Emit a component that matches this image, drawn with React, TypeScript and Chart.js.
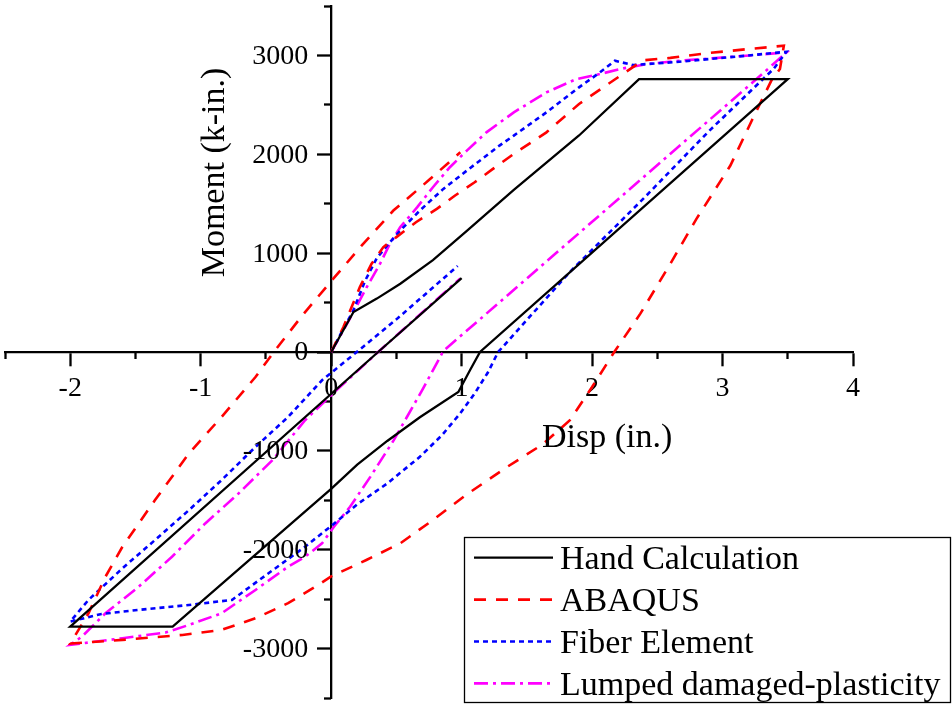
import React, { useEffect, useRef } from "react";
import { Chart, registerables } from "chart.js";

Chart.register(...registerables);

// ---------- data (Disp in., Moment k-in.) ----------
const seriesLabels = ["Hand Calculation", "ABAQUS", "Fiber Element", "Lumped damaged-plasticity"];

const handX = [0, 0.171, 0.35, 0.53, 0.78, 1.04, 1.4, 1.9, 2.36, 3.5, 1.141, 1.064, 0.975, 0.68, 0.43, 0.2, 0, -1.215, -2, 0.36, 1.0];
const handY = [0, 404, 540, 690, 930, 1225, 1640, 2190, 2761, 2761, 0, -185, -404, -660, -900, -1140, -1385, -2778, -2778, 0, 748];

const abaqusX = [0, 0.094, 0.22, 0.31, 0.4, 0.5, 0.65, 0.81, 0.95, 1.1, 1.24, 1.4, 1.65, 1.9, 2.16, 2.39, 2.6, 2.9, 3.2, 3.47, 3.44, 3.38, 3.23, 3.06, 2.93, 2.8, 2.6, 2.37, 2.17, 2.0, 1.83, 1.62, 1.34, 1.04, 0.78, 0.53, 0.27, 0, -0.12, -0.33, -0.58, -0.84, -1.14, -1.6, -2.0, -1.86, -1.73, -1.6, -1.35, -1.09, -0.84, -0.58, -0.44, -0.21, 0.005, 0.235, 0.477, 0.745, 0.99];
const abaqusY = [0, 253, 657, 893, 1061, 1162, 1313, 1448, 1583, 1717, 1852, 2004, 2222, 2509, 2744, 2950, 2975, 3025, 3065, 3098, 2862, 2761, 2357, 1886, 1616, 1347, 893, 388, 0, -354, -690, -935, -1170, -1440, -1700, -1935, -2104, -2270, -2374, -2541, -2693, -2811, -2862, -2912, -2950, -2643, -2273, -1970, -1498, -1026, -657, -253, 0, 388, 724, 1078, 1431, 1734, 2020];

const fiberX = [0, 0.08, 0.17, 0.26, 0.35, 0.45, 0.53, 0.68, 0.86, 1.04, 1.29, 1.4, 1.65, 1.9, 2.06, 2.175, 2.315, 2.67, 3.18, 3.49, 3.39, 2.9, 2.4, 1.83, 1.28, 1.2, 1.1, 0.99, 0.85, 0.68, 0.43, 0.2, 0, -0.2, -0.48, -0.76, -1.09, -1.48, -1.76, -2.0, -1.86, -1.6, -1.35, -1.09, -0.84, -0.58, -0.33, -0.07, 0.15, 0.5, 0.97];
const fiberY = [0, 200, 420, 720, 950, 1110, 1229, 1431, 1650, 1835, 2088, 2189, 2424, 2677, 2828, 2946, 2903, 2936, 2997, 3037, 2862, 2240, 1560, 810, 0, -210, -420, -620, -840, -1060, -1330, -1540, -1760, -1970, -2238, -2508, -2559, -2609, -2650, -2727, -2508, -2188, -1902, -1599, -1296, -960, -657, -286, -50, 330, 870];

const lumpedX = [0, 0.094, 0.171, 0.273, 0.375, 0.45, 0.53, 0.66, 0.78, 0.91, 1.04, 1.19, 1.4, 1.65, 1.88, 2.06, 2.24, 2.42, 2.67, 3.18, 3.49, 3.39, 3.26, 0.86, 0.7, 0.48, 0.3, 0.145, 0.02, -0.07, -0.2, -0.33, -0.58, -0.84, -1.09, -1.27, -1.6, -2.0, -1.91, -1.73, -1.475, -1.22, -0.965, -0.71, -0.45, -0.2, 0, 0.36, 0.99];
const lumpedY = [0, 219, 404, 657, 893, 1095, 1263, 1465, 1667, 1869, 2037, 2222, 2424, 2626, 2761, 2812, 2869, 2913, 2946, 2997, 3030, 2913, 2761, 10, -380, -892, -1263, -1566, -1770, -1936, -2071, -2172, -2407, -2643, -2761, -2838, -2895, -2963, -2879, -2643, -2374, -2071, -1734, -1431, -1094, -690, -437, 0, 745];

// ---------- axes ----------
const xMin = -2.5, xMax = 4;
const yMin = -3500, yMax = 3500;
const xMajorTicks = [-2, -1, 0, 1, 2, 3, 4];
const xMinorTicks = [-2.5, -1.5, -0.5, 0.5, 1.5, 2.5, 3.5];
const yMajorTicks = [-3000, -2000, -1000, 0, 1000, 2000, 3000];
const yMinorTicks = [-3500, -2500, -1500, -500, 500, 1500, 2500, 3500];

const FONT = "'Liberation Serif', 'Times New Roman', serif";
const TICK_SIZE = 28;

function pts(xs: number[], ys: number[]) {
  return xs.map((x, i) => ({ x, y: ys[i] }));
}

const zeroPad = (s: any) => {
  s.paddingLeft = 0;
  s.paddingRight = 0;
  s.paddingTop = 0;
  s.paddingBottom = 0;
};
const setTicks = (vals: number[]) => (s: any) => {
  s.ticks = vals.map((v) => ({ value: v }));
};

const titlesAndLegend = {
  id: "titlesAndLegend",
  afterDraw(chart: any) {
    const ctx = chart.ctx as CanvasRenderingContext2D;
    const xs = chart.scales.x;
    const ys = chart.scales.y;
    ctx.save();
    ctx.fillStyle = "#000";

    // y tick labels (left of the vertical axis)
    ctx.font = `${TICK_SIZE}px ${FONT}`;
    ctx.textAlign = "right";
    ctx.textBaseline = "middle";
    const axisX = xs.getPixelForValue(0);
    yMajorTicks.forEach((v) => {
      ctx.fillText(String(v), axisX - 23, ys.getPixelForValue(v) + 1);
    });

    ctx.font = `34px ${FONT}`;
    ctx.textBaseline = "alphabetic";
    // x title
    ctx.textAlign = "left";
    ctx.fillText("Disp (in.)", 542, 447);
    // y title
    ctx.save();
    ctx.translate(224, 172.5);
    ctx.rotate(-Math.PI / 2);
    ctx.textAlign = "center";
    ctx.fillText("Moment (k-in.)", 0, 0);
    ctx.restore();

    // legend
    const bx = 464.5, by = 537.5, bw = 486, bh = 165;
    ctx.fillStyle = "#fff";
    ctx.fillRect(bx, by, bw, bh);
    ctx.strokeStyle = "#000";
    ctx.lineWidth = 1.3;
    ctx.setLineDash([]);
    ctx.strokeRect(bx, by, bw, bh);
    chart.data.datasets.forEach((ds: any, i: number) => {
      const y = 557.7 + i * 41.9;
      ctx.save();
      ctx.strokeStyle = ds.borderColor;
      ctx.lineWidth = ds.borderWidth;
      ctx.setLineDash(ds.borderDash || []);
      ctx.beginPath();
      ctx.moveTo(474, y);
      ctx.lineTo(553, y);
      ctx.stroke();
      ctx.restore();
      ctx.fillStyle = "#000";
      ctx.textAlign = "left";
      ctx.fillText(ds.label, 560, y + 11.5);
    });
    ctx.restore();
  },
};

export default function App() {
  const ref = useRef<HTMLCanvasElement | null>(null);

  useEffect(() => {
    if (!ref.current) return;
    const tickFont = { family: FONT, size: TICK_SIZE };
    const gridMajor = { drawOnChartArea: false, drawTicks: true, tickLength: 13, tickWidth: 2.3, tickColor: "#000" };
    const gridMinor = { drawOnChartArea: false, drawTicks: true, tickLength: 7, tickWidth: 2.3, tickColor: "#000" };
    const chart = new Chart(ref.current, {
      type: "scatter",
      data: {
        datasets: [
          { label: seriesLabels[0], data: pts(handX, handY), borderColor: "#000000", borderWidth: 2.3, borderDash: [] },
          { label: seriesLabels[1], data: pts(abaqusX, abaqusY), borderColor: "#ff0000", borderWidth: 2.6, borderDash: [12, 10] },
          { label: seriesLabels[2], data: pts(fiberX, fiberY), borderColor: "#0000ff", borderWidth: 2.6, borderDash: [5, 4] },
          { label: seriesLabels[3], data: pts(lumpedX, lumpedY), borderColor: "#ff00ff", borderWidth: 2.6, borderDash: [14, 5, 3, 5] },
        ].map((d) => ({ ...d, showLine: true, pointRadius: 0, pointHoverRadius: 0, fill: false, tension: 0 })),
      },
      options: {
        animation: false,
        responsive: false,
        devicePixelRatio: 1,
        layout: { padding: { left: 5, right: 99, top: 6, bottom: 7 } },
        plugins: { legend: { display: false }, tooltip: { enabled: false } },
        scales: {
          x: {
            type: "linear",
            axis: "x",
            min: xMin,
            max: xMax,
            position: { y: 0 } as any,
            grid: gridMajor,
            border: { display: true, color: "#000", width: 2.3 },
            ticks: {
              color: "#000",
              font: tickFont,
              padding: 7,
              maxRotation: 0,
              autoSkip: false,
              callback: (v: any) => String(v),
            },
            afterBuildTicks: setTicks(xMajorTicks),
            afterFit: zeroPad,
          },
          x2: {
            type: "linear",
            axis: "x",
            min: xMin,
            max: xMax,
            position: { y: 0 } as any,
            grid: gridMinor,
            border: { display: false },
            ticks: { display: false, autoSkip: false },
            afterBuildTicks: setTicks(xMinorTicks),
            afterFit: zeroPad,
          },
          y: {
            type: "linear",
            axis: "y",
            min: yMin,
            max: yMax,
            position: { x: 0 } as any,
            grid: gridMajor,
            border: { display: true, color: "#000", width: 2.3 },
            ticks: { display: false, autoSkip: false },
            afterBuildTicks: setTicks(yMajorTicks),
            afterFit: zeroPad,
          },
          y2: {
            type: "linear",
            axis: "y",
            min: yMin,
            max: yMax,
            position: { x: 0 } as any,
            grid: gridMinor,
            border: { display: false },
            ticks: { display: false, autoSkip: false },
            afterBuildTicks: setTicks(yMinorTicks),
            afterFit: zeroPad,
          },
        },
      } as any,
      plugins: [titlesAndLegend],
    });
    return () => chart.destroy();
  }, []);

  return (
    <div style={{ position: "absolute", left: 0, top: 0, width: 952, height: 705, background: "#fff" }}>
      <canvas ref={ref} width={952} height={705} style={{ display: "block" }} />
    </div>
  );
}
